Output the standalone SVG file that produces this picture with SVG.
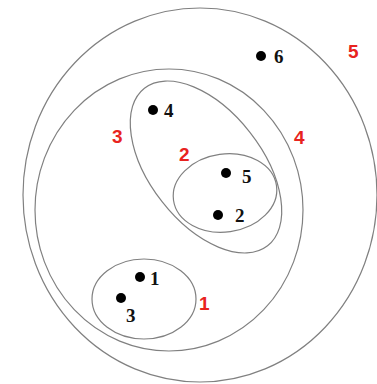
<svg xmlns="http://www.w3.org/2000/svg" width="377" height="384" viewBox="0 0 377 384">
<style>
.set{fill:none;stroke:#808080;stroke-width:1.2}
.dot{fill:#000}
.lbl{font-family:"Liberation Serif",serif;font-weight:bold;font-size:19px;fill:#111}
.red{font-family:"Liberation Sans",sans-serif;font-weight:bold;font-size:19px;fill:#e8231e}
</style>
<rect width="377" height="384" fill="#fff"/>
<g id="connectors"></g>
<g id="set5"><ellipse class="set" cx="200" cy="195" rx="177" ry="187"/><text class="red" x="348" y="58">5</text></g>
<g id="set4"><ellipse class="set" cx="169" cy="210" rx="134" ry="141"/><text class="red" x="294" y="144">4</text></g>
<g id="set3"><ellipse class="set" cx="0" cy="0" rx="100" ry="56" transform="translate(206,167) rotate(52)"/><text class="red" x="112" y="143">3</text></g>
<g id="set2"><ellipse class="set" cx="0" cy="0" rx="52" ry="39" transform="translate(225,193) rotate(-8)"/><text class="red" x="179" y="161">2</text></g>
<g id="set1"><ellipse class="set" cx="144" cy="299" rx="52" ry="40"/><text class="red" x="199" y="310">1</text></g>
<g id="node6"><circle class="dot" cx="261" cy="56" r="5"/><text class="lbl" x="274" y="63">6</text></g>
<g id="node4"><circle class="dot" cx="153" cy="110" r="5"/><text class="lbl" x="164" y="117">4</text></g>
<g id="node5"><circle class="dot" cx="226" cy="173" r="5"/><text class="lbl" x="242" y="183">5</text></g>
<g id="node2"><circle class="dot" cx="218" cy="215" r="5"/><text class="lbl" x="235" y="222">2</text></g>
<g id="node1"><circle class="dot" cx="140" cy="277" r="5"/><text class="lbl" x="150" y="285">1</text></g>
<g id="node3"><circle class="dot" cx="121" cy="298" r="5"/><text class="lbl" x="126" y="322">3</text></g>
</svg>
